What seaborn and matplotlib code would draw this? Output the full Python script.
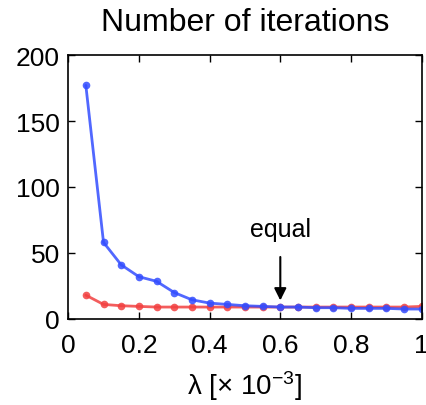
import numpy as np
import pandas as pd
import matplotlib
matplotlib.use("Agg")
import matplotlib.pyplot as plt
import seaborn as sns

lam = [0.05, 0.10, 0.15, 0.20, 0.25, 0.30, 0.35, 0.40, 0.45, 0.50,
       0.55, 0.60, 0.65, 0.70, 0.75, 0.80, 0.85, 0.90, 0.95, 1.00]
blue_iters = [177, 58, 41, 32, 28.5, 20, 14.5, 12, 11, 10,
              9.5, 9, 9, 8.5, 8.5, 8, 8, 8, 7.5, 7.5]
red_iters = [18, 11, 10, 9.5, 9, 9, 9, 9, 9, 9,
             9, 9, 9, 9, 9, 9, 9, 9, 9, 9.5]
series = ["blue", "red"]
xticks = [0, 0.2, 0.4, 0.6, 0.8, 1]
xticklabels = ["0", "0.2", "0.4", "0.6", "0.8", "1"]
yticks = [0, 50, 100, 150, 200]

df = pd.DataFrame({
    "lam": lam * 2,
    "iters": blue_iters + red_iters,
    "method": [series[0]] * len(lam) + [series[1]] * len(lam),
})

sns.set_style("white")
plt.rcParams["font.family"] = ["Liberation Sans", "DejaVu Sans"]
plt.rcParams["mathtext.fontset"] = "custom"
plt.rcParams["mathtext.rm"] = "Liberation Sans"
plt.rcParams["mathtext.it"] = "Liberation Sans"
plt.rcParams["text.color"] = "black"
plt.rcParams["axes.labelcolor"] = "black"
plt.rcParams["xtick.color"] = "black"
plt.rcParams["ytick.color"] = "black"

fig = plt.figure(figsize=(4.26, 4.06), dpi=100)
ax = fig.add_axes([0.16, 0.212, 0.83, 0.65])

palette = {"blue": (0.2, 0.3, 1.0), "red": (0.95, 0.25, 0.25)}
sns.lineplot(data=df, x="lam", y="iters", hue="method", palette=palette,
             marker="o", markersize=5.5, markeredgewidth=0, linewidth=2,
             alpha=0.85, legend=False, ax=ax, hue_order=["red", "blue"])

ax.set_xlim(0, 1)
ax.set_ylim(0, 200)
ax.set_xticks(xticks)
ax.set_xticklabels(xticklabels)
ax.set_yticks(yticks)
ax.tick_params(direction="in", bottom=True, left=True, top=True, right=True,
               length=5, width=1, labelsize=19, pad=6, color="black",
               labelcolor="black")
ax.tick_params(axis="x", pad=10)
for sp in ax.spines.values():
    sp.set_visible(True)
    sp.set_color("black")
    sp.set_linewidth(1.2)

ax.set_title("Number of iterations", fontsize=23, pad=18, color="black")
ax.set_xlabel(r"λ [× 10$^{-3}$]", fontsize=20, labelpad=8, color="black")
ax.set_ylabel("")

ax.annotate("equal", xy=(0.6, 14), xytext=(0.6, 68),
            ha="center", va="center", fontsize=18, color="black",
            arrowprops=dict(arrowstyle="-|>", color="black", lw=1.5,
                            mutation_scale=18, shrinkA=9, shrinkB=0))

fig.savefig("out.png", dpi=100)
